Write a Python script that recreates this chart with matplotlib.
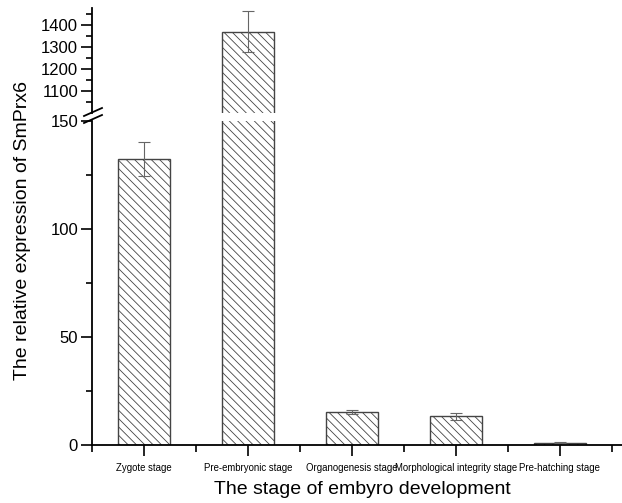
import matplotlib
matplotlib.use("Agg")
import matplotlib.pyplot as plt
from matplotlib.ticker import FixedLocator
from matplotlib.lines import Line2D

plt.rcParams['font.family'] = ['Liberation Sans', 'DejaVu Sans']
plt.rcParams['hatch.color'] = '#808080'
plt.rcParams['hatch.linewidth'] = 0.6

categories = ["Zygote stage", "Pre-embryonic stage", "Organogenesis stage",
              "Morphological integrity stage", "Pre-hatching stage"]
values = [132.4, 1370, 15.3, 13.3, 1.0]
errors = [7.8, 92, 0.9, 1.6, 0.2]
lower_ticks = [0, 50, 100, 150]
upper_ticks = [1100, 1200, 1300, 1400]

W, H = 622, 503
fig = plt.figure(figsize=(W / 100, H / 100), dpi=100)

def frac(x0, y0, x1, y1):
    return [x0 / W, 1 - y1 / H, (x1 - x0) / W, (y1 - y0) / H]

ax_lo = fig.add_axes(frac(92, 121, 622, 445))
ax_hi = fig.add_axes(frac(92, 8, 622, 113))

pos = list(range(1, len(categories) + 1))
for ax in (ax_lo, ax_hi):
    ax.bar(pos, values, width=0.5, color='white', edgecolor='#444444',
           linewidth=1.0, hatch='\\\\\\\\')
    ax.errorbar(pos, values, yerr=errors, fmt='none', ecolor='#666666',
                elinewidth=0.8, capsize=4, capthick=0.8)
    ax.set_xlim(0.5, 5.6)
    ax.spines['top'].set_visible(False)
    ax.spines['right'].set_visible(False)
    ax.spines['left'].set_linewidth(1.3)
    ax.spines['bottom'].set_linewidth(1.3)
    ax.tick_params(axis='y', which='major', direction='out', length=8, width=1.2, labelsize=12, pad=2)
    ax.tick_params(axis='y', which='minor', direction='out', length=4, width=1.2)

ax_lo.set_ylim(0, 150)
ax_lo.yaxis.set_major_locator(FixedLocator(lower_ticks))
ax_lo.yaxis.set_minor_locator(FixedLocator([25, 75, 125]))
ax_lo.set_xticks(pos)
ax_lo.set_xticklabels(categories, fontsize=6.9)
ax_lo.xaxis.set_minor_locator(FixedLocator([0.5, 1.5, 2.5, 3.5, 4.5, 5.5]))
ax_lo.tick_params(axis='x', which='major', direction='out', length=8, width=1.2, pad=5)
ax_lo.tick_params(axis='x', which='minor', direction='out', length=5, width=1.2)

ax_hi.set_ylim(1000, 1477)
ax_hi.yaxis.set_major_locator(FixedLocator(upper_ticks))
ax_hi.yaxis.set_minor_locator(FixedLocator([1050, 1150, 1250, 1350, 1450]))
ax_hi.spines['bottom'].set_visible(False)
ax_hi.set_xticks([])
ax_hi.patch.set_alpha(0)

# break marks
for yc in (112, 119):
    fig.add_artist(Line2D([84 / W, 102 / W], [1 - (yc + 4) / H, 1 - (yc - 4) / H],
                          color='black', linewidth=1.3))

fig.text(23 / W, 1 - 231 / H, "The relative expression of SmPrx6", rotation=90,
         ha='center', va='center', fontsize=14)
fig.text(362 / W, 1 - 490 / H, "The stage of embyro development",
         ha='center', va='center', fontsize=14)

fig.savefig("out.png", dpi=100)
